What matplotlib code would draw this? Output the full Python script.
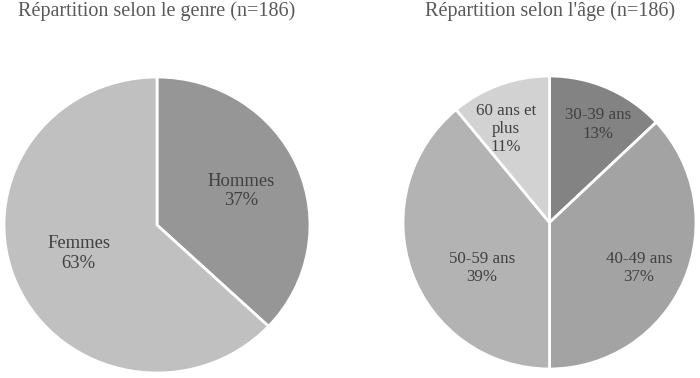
import matplotlib.pyplot as plt
import numpy as np

# genre (n=186)
GENRE_LABELS = ["Hommes", "Femmes"]
GENRE_PCT = [37, 63]
GENRE_COLORS = ["#969696", "#c0c0c0"]

# age (n=186)
AGE_LABELS = ["30-39 ans", "40-49 ans", "50-59 ans", "60 ans et\nplus"]
AGE_PCT = [13, 37, 39, 11]
AGE_COLORS = ["#838383", "#a3a3a3", "#b3b3b3", "#d2d2d2"]

plt.rcParams["font.family"] = ["Liberation Serif", "DejaVu Serif"]

W, H = 700, 378
fig = plt.figure(figsize=(W / 100, H / 100), dpi=100)


def add_pie(box, values, labels, colors, label_pos, fs, title, title_x):
    # label_pos: (radius, angle offset from wedge middle) for each label
    x0, y0, x1, y1 = box
    ax = fig.add_axes([x0 / W, 1 - y1 / H, (x1 - x0) / W, (y1 - y0) / H])
    wedges, _ = ax.pie(values, colors=colors, startangle=90, counterclock=False,
                       wedgeprops=dict(edgecolor="white", linewidth=2))
    for w, lab, val, (d, off) in zip(wedges, labels, values, label_pos):
        ang = np.deg2rad((w.theta1 + w.theta2) / 2 + off)
        ax.text(d * np.cos(ang), d * np.sin(ang), f"{lab}\n{val}%",
                ha="center", va="center", fontsize=fs, color="#404040",
                linespacing=1.2)
    ax.set_xlim(-1, 1)
    ax.set_ylim(-1, 1)
    ax.set_aspect("auto")
    ax.axis("off")
    fig.text(title_x / W, 1 - 11 / H, title, ha="center", va="center",
             fontsize=14.5, color="#595959")


add_pie((4, 77, 310, 373), GENRE_PCT, GENRE_LABELS, GENRE_COLORS,
        [(0.595, -0.7), (0.548, -2.8)], 13.4,
        "Répartition selon le genre (n=186)", 157)
add_pie((403, 76, 696, 369), AGE_PCT, AGE_LABELS, AGE_COLORS,
        [(0.746, -2.9), (0.686, -3.6), (0.556, 14.2), (0.704, 5.2)], 12.2,
        "Répartition selon l'âge (n=186)", 550)

fig.savefig("out.png", dpi=100)
